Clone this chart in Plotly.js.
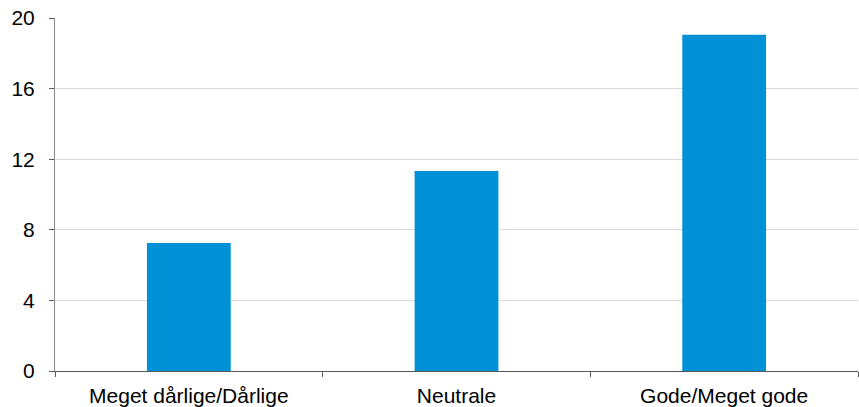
<!DOCTYPE html>
<html>
<head>
<meta charset="utf-8">
<script src="https://cdn.plot.ly/plotly-3.0.1.min.js"></script>
<style>html,body{margin:0;padding:0;background:#fff;}#chart{width:859px;height:407px;}</style>
</head>
<body>
<div id="chart"></div>
<script>
const categories = ["Meget dårlige/Dårlige", "Neutrale", "Gode/Meget gode"];
const values = [7.25, 11.33, 19.05];
const yTickValues = [0, 4, 8, 12, 16, 20];

const trace = {
  type: "bar",
  x: categories,
  y: values,
  width: 0.313,
  marker: {color: "#0091d6", line: {width: 0}},
  hoverinfo: "none"
};

const layout = {
  width: 859,
  height: 407,
  margin: {l: 55, r: 1, t: 18, b: 36},
  paper_bgcolor: "#ffffff",
  plot_bgcolor: "#ffffff",
  showlegend: false,
  font: {family: "Liberation Sans, Arial, sans-serif", size: 21, color: "#000000"},
  xaxis: {
    type: "category",
    showgrid: false,
    showline: true,
    linecolor: "#595959",
    linewidth: 1.3,
    ticks: "outside",
    tickson: "boundaries",
    ticklen: 5,
    tickcolor: "#595959",
    tickwidth: 1,
    tickfont: {size: 21, color: "#000000"},
    ticklabelstandoff: 5,
    range: [-0.5, 2.5],
    zeroline: false,
    fixedrange: true
  },
  yaxis: {
    range: [0, 20],
    tickvals: yTickValues,
    ticktext: yTickValues.map(String),
    showgrid: true,
    gridcolor: "#d9d9d9",
    gridwidth: 1,
    showline: true,
    linecolor: "#888888",
    linewidth: 1,
    ticks: "outside",
    ticklen: 5,
    tickcolor: "#595959",
    tickwidth: 1,
    tickfont: {size: 21, color: "#000000"},
    ticklabelstandoff: 10,
    zeroline: false,
    fixedrange: true
  }
};

Plotly.newPlot("chart", [trace], layout, {staticPlot: true, displayModeBar: false});
</script>
</body>
</html>
